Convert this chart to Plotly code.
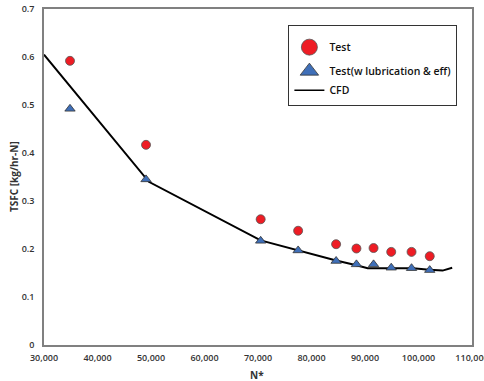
import plotly.graph_objects as go

# Data
test_x = [34860, 49070, 70500, 77500, 84600, 88400, 91600, 94900, 98700, 102100]
test_y = [0.592, 0.417, 0.262, 0.238, 0.210, 0.201, 0.202, 0.194, 0.194, 0.185]

lub_x = [34860, 49070, 70500, 77500, 84600, 88400, 91600, 94900, 98700, 102100]
lub_y = [0.492, 0.345, 0.217, 0.197, 0.175, 0.168, 0.168, 0.161, 0.160, 0.156]

cfd_x = [30000, 49600, 70500, 77500, 84600, 88400, 90500, 95000, 99000, 102000, 104500, 106300]
cfd_y = [0.605, 0.340, 0.218, 0.197, 0.176, 0.166, 0.160, 0.160, 0.160, 0.157, 0.155, 0.161]

x_ticks = [30000, 40000, 50000, 60000, 70000, 80000, 90000, 100000, 110000]
x_tick_text = ["30,000", "40,000", "50,000", "60,000", "70,000", "80,000", "90,000", "100,000", "110,000"]
y_ticks = [0, 0.1, 0.2, 0.3, 0.4, 0.5, 0.6, 0.7]
y_tick_text = ["0", "0.1", "0.2", "0.3", "0.4", "0.5", "0.6", "0.7"]

FONT = "Open Sans"
TXT = "#333333"

fig = go.Figure()

fig.add_trace(go.Scatter(x=cfd_x, y=cfd_y, mode="lines",
                         line=dict(color="black", width=2), showlegend=False))
fig.add_trace(go.Scatter(x=test_x, y=test_y, mode="markers",
                         marker=dict(symbol="circle", size=9, color="#ee1c24",
                                     line=dict(color="#555555", width=0.8)),
                         showlegend=False))
fig.add_trace(go.Scatter(x=lub_x, y=lub_y, mode="markers",
                         marker=dict(symbol="triangle-up", size=9, color="#3f6fb8",
                                     line=dict(color="#333333", width=0.8)),
                         showlegend=False))

# legend entries
fig.add_trace(go.Scatter(x=[None], y=[None], mode="markers", name="Test", legendgroup="a",
                         marker=dict(symbol="circle", size=16, color="#ee1c24",
                                     line=dict(color="#555555", width=0.8))))
fig.add_trace(go.Scatter(x=[None], y=[None], mode="markers", name="Test(w lubrication & eff)",
                         legendgroup="b",
                         marker=dict(symbol="triangle-up", size=16, color="#3f6fb8",
                                     line=dict(color="#333333", width=0.8))))
fig.add_trace(go.Scatter(x=[None], y=[None], mode="lines", name="CFD", legendgroup="b",
                         line=dict(color="black", width=1.5)))

fig.update_layout(
    width=484, height=381,
    margin=dict(l=44, r=12, t=9, b=36),
    paper_bgcolor="white", plot_bgcolor="white",
    font=dict(family=FONT, size=9, color=TXT),
    legend=dict(x=0.571, y=0.952, xanchor="left", yanchor="top",
                bordercolor="#333333", borderwidth=1, bgcolor="white",
                font=dict(family=FONT, size=10.5, color="#111111", weight=600),
                title=dict(text=" ", font=dict(size=5)),
                traceorder="grouped", tracegroupgap=5),
    xaxis=dict(range=[30000, 110000], tickvals=x_ticks, ticktext=x_tick_text,
               showgrid=False, zeroline=False, showline=True, linecolor="#808080",
               linewidth=1.5, mirror=True, ticks="outside", ticklen=3,
               tickcolor="rgba(0,0,0,0)", automargin=False, ticklabeloverflow="allow",
               tickfont=dict(family=FONT, size=9, color=TXT, weight=600)),
    yaxis=dict(range=[0, 0.7], tickvals=y_ticks, ticktext=y_tick_text,
               showgrid=False, zeroline=False, showline=True, linecolor="#808080",
               linewidth=1.5, mirror=True, ticks="outside", ticklen=6,
               tickcolor="rgba(0,0,0,0)", automargin=False,
               tickfont=dict(family=FONT, size=9, color=TXT, weight=600)),
    annotations=[
        dict(text="N*", xref="paper", yref="paper", x=0.497, y=-0.089,
             xanchor="center", yanchor="middle", showarrow=False,
             font=dict(family=FONT, size=10, color=TXT, weight="bold")),
        dict(text="TSFC [kg/hr-N]", xref="paper", yref="paper", x=-0.070, y=0.5,
             xanchor="center", yanchor="middle", showarrow=False, textangle=-90,
             font=dict(family=FONT, size=10, color=TXT, weight="bold")),
    ],
)

# remove the default page margin so the figure fills the window exactly
fig.write_html("out.html", config={"displayModeBar": False},
               post_script="document.body.style.margin='0';document.body.style.overflow='hidden';")
